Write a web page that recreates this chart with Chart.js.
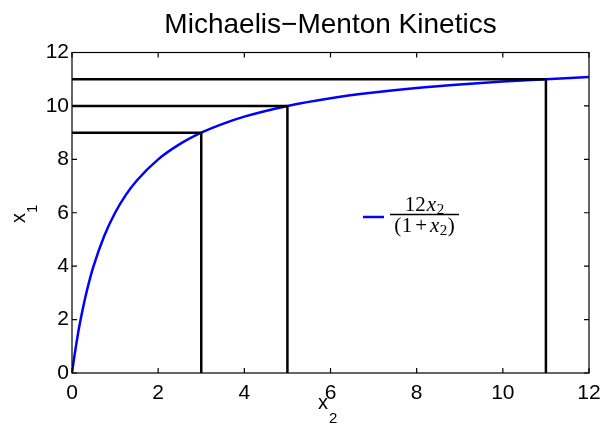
<!DOCTYPE html>
<html>
<head>
<meta charset="utf-8">
<script src="https://cdn.jsdelivr.net/npm/chart.js@4/dist/chart.umd.min.js"></script>
<style>
  html, body { margin: 0; padding: 0; background: #fff; }
  #wrap { width: 605px; height: 429px; }
</style>
</head>
<body>
<div id="wrap"><canvas id="mmChart"></canvas></div>
<script>
// curve values (x2 -> x1)
const curveX = [0, 0.05, 0.1, 0.15, 0.2, 0.3, 0.4, 0.5, 0.75, 1, 1.25, 1.5, 2, 2.5, 3, 3.5, 4, 5, 6, 7, 8, 9, 10, 11, 12];
const curveY = [0, 0.57, 1.09, 1.57, 2.0, 2.77, 3.43, 4.0, 5.14, 6.0, 6.67, 7.2, 8.0, 8.57, 9.0, 9.33, 9.6, 10.0, 10.29, 10.5, 10.67, 10.8, 10.91, 11.0, 11.08];

// black guide lines: substrate level and its rate
const guideX = [3, 5, 11];
const guideY = [9, 10, 11];

const xTicks = [0, 2, 4, 6, 8, 10, 12];
const yTicks = [0, 2, 4, 6, 8, 10, 12];

const ctx = document.getElementById("mmChart").getContext("2d");
const FONT = "'Liberation Sans', Arial, sans-serif";
const SERIF = "'Liberation Serif', 'DejaVu Serif', serif";

const datasets = [];
guideX.forEach((gx, i) => {
    datasets.push({
        data: [{ x: 0, y: guideY[i] }, { x: gx, y: guideY[i] }],
        borderColor: 'black', borderWidth: 2.5, pointRadius: 0, fill: false
    });
    datasets.push({
        data: [{ x: gx, y: 0 }, { x: gx, y: guideY[i] }],
        borderColor: 'black', borderWidth: 2.5, pointRadius: 0, fill: false
    });
});
datasets.push({
    data: curveX.map((x, i) => ({ x: x, y: curveY[i] })),
    borderColor: '#0000ff', borderWidth: 2.5, pointRadius: 0, fill: false,
    cubicInterpolationMode: 'monotone'
});

// draw runs of [text, font, dy, gapAfter] left to right, return end x
function runs(c, parts, x, y, measureOnly) {
    parts.forEach(p => {
        c.font = p[1];
        if (!measureOnly) c.fillText(p[0], x, y + (p[2] || 0));
        x += c.measureText(p[0]).width + (p[3] || 0);
    });
    return x;
}

// box, inward ticks, title, axis labels and the fraction legend
const matlabLook = {
    id: 'matlabLook',
    afterDraw(chart) {
        const c = chart.ctx;
        const a = chart.chartArea;
        const xs = chart.scales.x, ys = chart.scales.y;
        c.save();
        c.strokeStyle = 'black';
        c.lineWidth = 1.2;
        c.strokeRect(a.left, a.top, a.right - a.left, a.bottom - a.top);
        c.beginPath();
        xTicks.forEach(t => {
            const px = xs.getPixelForValue(t);
            c.moveTo(px, a.bottom); c.lineTo(px, a.bottom - 5);
            c.moveTo(px, a.top); c.lineTo(px, a.top + 5);
        });
        yTicks.forEach(t => {
            const py = ys.getPixelForValue(t);
            c.moveTo(a.left, py); c.lineTo(a.left + 5, py);
            c.moveTo(a.right, py); c.lineTo(a.right - 5, py);
        });
        c.stroke();

        c.fillStyle = 'black';
        c.textAlign = 'center';
        c.textBaseline = 'alphabetic';
        c.font = '28px ' + FONT;
        c.fillText('Michaelis\u2212Menton Kinetics', (a.left + a.right) / 2, 33);

        // x label
        c.textAlign = 'left';
        runs(c, [['x', '20px ' + FONT, 0, 1], ['2', '15px ' + FONT, 14]], 318, 409);

        // y label
        c.save();
        c.translate(25, 223);
        c.rotate(-Math.PI / 2);
        runs(c, [['x', '20px ' + FONT, 0], ['1', '15px ' + FONT, 12]], 0, 0);
        c.restore();

        // legend
        c.strokeStyle = '#0000ff';
        c.lineWidth = 2.5;
        c.beginPath();
        c.moveTo(363, 217); c.lineTo(384, 217);
        c.stroke();
        c.strokeStyle = 'black';
        c.lineWidth = 1.3;
        c.beginPath();
        c.moveTo(390, 214.5); c.lineTo(459, 214.5);
        c.stroke();
        const mid = 424.5;
        const num = [['12', '21px ' + SERIF, 0, 1], ['x', 'italic 21px ' + SERIF, 0, 0.5], ['2', '15px ' + SERIF, 3]];
        const den = [['(', '21px ' + SERIF, 0, 0.5], ['1', '21px ' + SERIF, 0, 3], ['+', '21px ' + SERIF, 0, 3],
                     ['x', 'italic 21px ' + SERIF, 0, 0.5], ['2', '15px ' + SERIF, 3, 0.5], [')', '21px ' + SERIF, 0]];
        let w = runs(c, num, 0, 0, true);
        runs(c, num, mid - w / 2, 211);
        w = runs(c, den, 0, 0, true);
        runs(c, den, mid - w / 2, 232);
        c.restore();
    }
};

new Chart(ctx, {
    type: 'line',
    data: { datasets: datasets },
    options: {
        responsive: true,
        maintainAspectRatio: false,
        animation: false,
        layout: { padding: { top: 52.5, right: 16, left: 0, bottom: 0 } },
        plugins: {
            legend: { display: false },
            tooltip: { enabled: false },
            title: { display: false }
        },
        scales: {
            x: {
                type: 'linear', min: 0, max: 12,
                grid: { display: false, drawTicks: false },
                border: { display: false },
                afterBuildTicks: s => { s.ticks = xTicks.map(v => ({ value: v })); },
                afterFit: s => { s.height = 56; s.paddingLeft = 0; s.paddingRight = 0; },
                ticks: { color: 'black', padding: 8, maxRotation: 0, font: { family: FONT, size: 21 } }
            },
            y: {
                type: 'linear', min: 0, max: 12,
                grid: { display: false, drawTicks: false },
                border: { display: false },
                afterBuildTicks: s => { s.ticks = yTicks.map(v => ({ value: v })); },
                afterFit: s => { s.width = 72; s.paddingTop = 0; s.paddingBottom = 0; },
                ticks: { color: 'black', padding: 3, font: { family: FONT, size: 21 } }
            }
        }
    },
    plugins: [matlabLook]
});
</script>
</body>
</html>
